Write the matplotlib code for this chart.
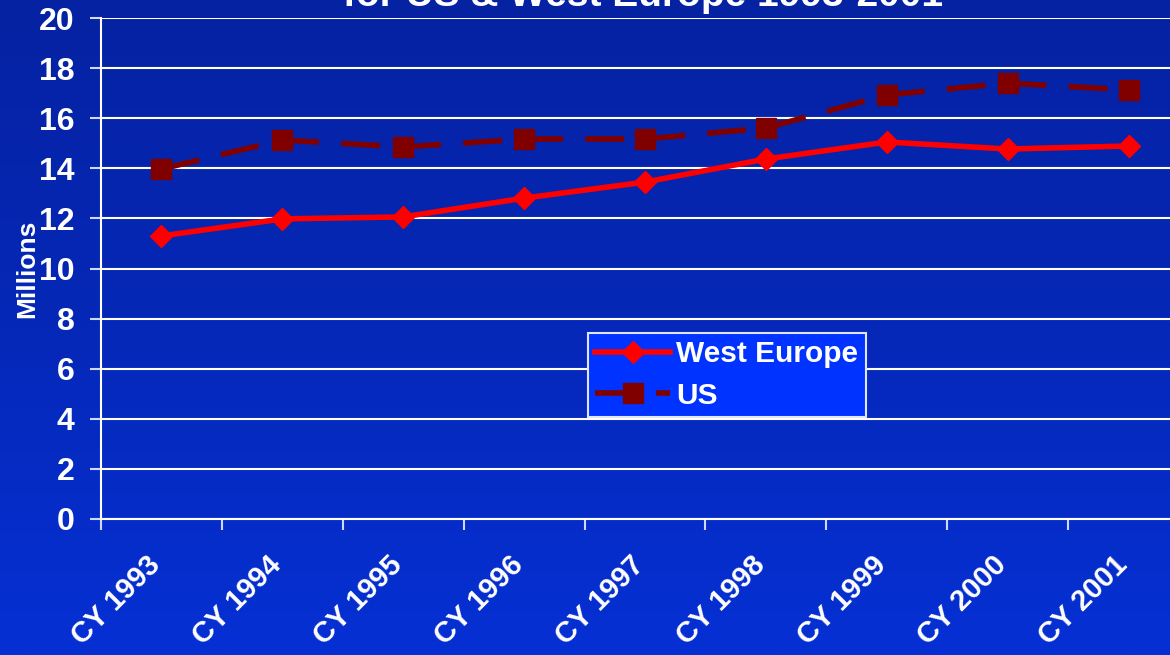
import matplotlib.pyplot as plt
import matplotlib.transforms as mtransforms
from matplotlib.colors import LinearSegmentedColormap
import numpy as np

years = ["CY 1993", "CY 1994", "CY 1995", "CY 1996", "CY 1997",
         "CY 1998", "CY 1999", "CY 2000", "CY 2001"]
west_europe = [11.3, 11.98, 12.06, 12.81, 13.45, 14.37, 15.05, 14.77, 14.89]
us = [13.97, 15.13, 14.85, 15.17, 15.17, 15.61, 16.93, 17.40, 17.13]

plt.rcParams['font.family'] = ['Liberation Sans', 'DejaVu Sans']
plt.rcParams['font.weight'] = 'bold'

fig = plt.figure(figsize=(11.7, 6.55), dpi=100)

# blue backdrop, a bit darker at the top
bg = fig.add_axes([0, 0, 1, 1], zorder=-10)
grad = np.linspace(0, 1, 256).reshape(-1, 1)
cmap = LinearSegmentedColormap.from_list("bg", ["#0522a2", "#0628b8", "#0530d4"])
bg.imshow(grad, aspect='auto', cmap=cmap, extent=[0, 1, 0, 1], origin='upper')
bg.axis('off')

ax = fig.add_axes([101/1170, 1 - 519/655, 1088/1170, 501/655])
ax.patch.set_alpha(0)

x = np.arange(len(years))
ax.plot(x, us, color='#800000', lw=4, ls=(0, (7, 4)), marker='s', ms=14,
        label='US', zorder=3)
ax.plot(x, west_europe, color='#ff0000', lw=4, marker='D', ms=11,
        label='West Europe', zorder=4)

ax.set_xlim(-0.5, len(years) - 0.5)
ax.set_ylim(0, 20)
ax.set_yticks(range(0, 21, 2))
ax.yaxis.grid(True, color='white', lw=1.5)
ax.set_axisbelow(True)

ax.set_xticks(x)
ax.set_xticks(np.arange(-0.5, len(years)), minor=True)
ax.tick_params(axis='x', which='major', length=0, pad=14)
ax.tick_params(axis='x', which='minor', length=8, width=1.5, color='#d0d8ff')
ax.tick_params(axis='y', length=8, width=1.5, color='#d0d8ff',
               labelsize=23, labelcolor='white', pad=11)
ax.set_xticklabels(years, rotation=45, ha='right', rotation_mode='anchor',
                   fontsize=21, color='white', fontweight='bold')
# nudge the slanted labels down-left like the original
shift = mtransforms.ScaledTranslation(-15/100, -12/100, fig.dpi_scale_trans)
for lab in ax.get_xticklabels():
    lab.set_transform(lab.get_transform() + shift)
for lab in ax.get_yticklabels():
    lab.set_fontweight('bold')

for s in ['top', 'right']:
    ax.spines[s].set_visible(False)
for s in ['left', 'bottom']:
    ax.spines[s].set_color('white')
    ax.spines[s].set_linewidth(1.5)

ax.set_ylabel('Millions', color='white', fontsize=19, fontweight='bold',
              labelpad=0)

handles, labels = ax.get_legend_handles_labels()
leg = ax.legend(handles[::-1], labels[::-1], loc='upper left',
                bbox_to_anchor=((588 - 101) / 1088, (519 - 333) / 501),
                fontsize=21.5, frameon=True, fancybox=False, borderpad=0.25,
                handlelength=2.5, handletextpad=0.2, labelspacing=0.45,
                borderaxespad=0)
leg.get_frame().set_facecolor('#0033ff')
leg.get_frame().set_edgecolor('#e0e6ff')
leg.get_frame().set_linewidth(1.5)
leg.get_frame().set_alpha(1)
for t in leg.get_texts():
    t.set_color('white')
    t.set_fontweight('bold')

fig.text(0.55, 1 - 6/655, 'for US & West Europe 1993-2001', color='white',
         fontsize=28, fontweight='bold', ha='center', va='baseline')

fig.savefig('out.png', dpi=100)
